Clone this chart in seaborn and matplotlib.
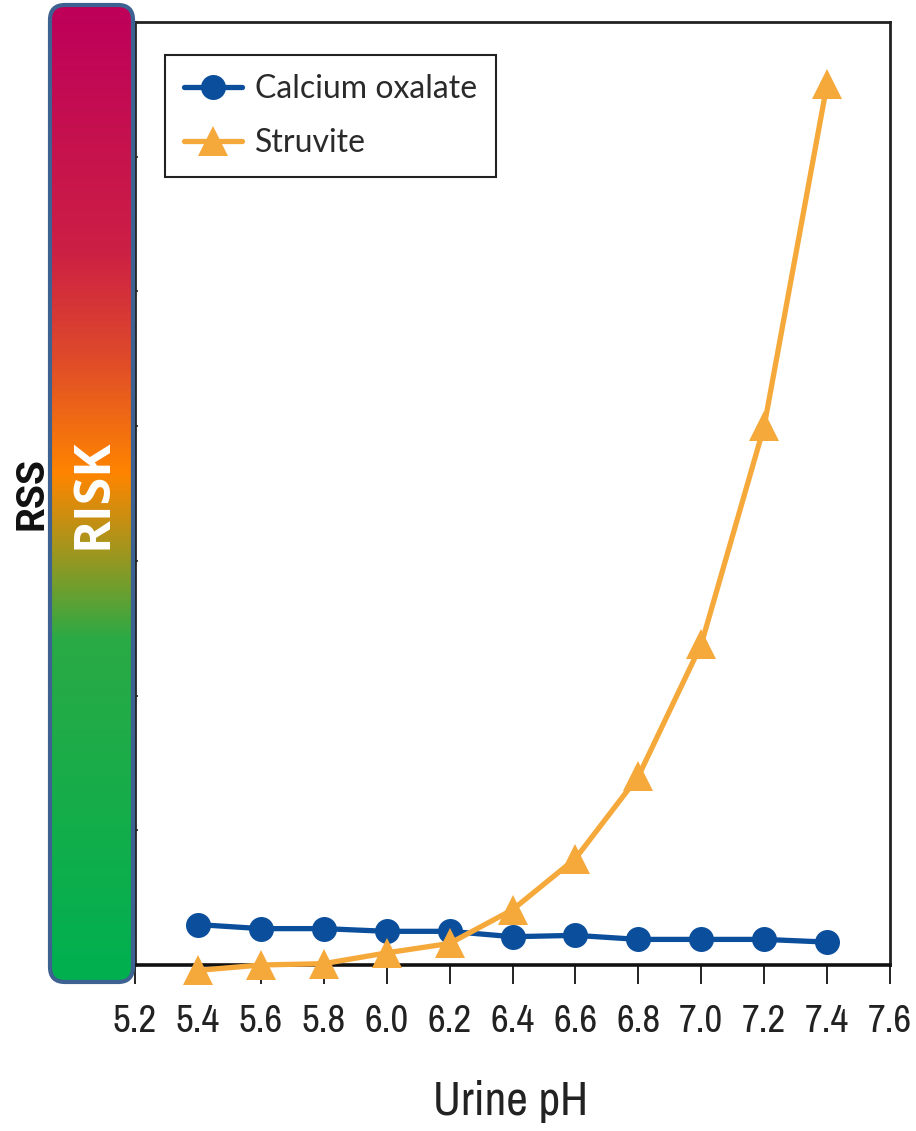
import numpy as np
import pandas as pd
import matplotlib
matplotlib.use("Agg")
import matplotlib.pyplot as plt
from matplotlib.colors import LinearSegmentedColormap
from matplotlib.patches import FancyBboxPatch
from matplotlib import font_manager
import seaborn as sns

# values (RSS in axis units, 0 at the bottom spine)
urine_ph = [5.4, 5.6, 5.8, 6.0, 6.2, 6.4, 6.6, 6.8, 7.0, 7.2, 7.4]
calcium_oxalate = [0.30, 0.27, 0.27, 0.25, 0.25, 0.21, 0.22, 0.19, 0.19, 0.19, 0.17]
struvite = [-0.04, 0.00, 0.01, 0.09, 0.16, 0.41, 0.79, 1.40, 2.38, 4.00, 6.54]
x_ticks = [5.2, 5.4, 5.6, 5.8, 6.0, 6.2, 6.4, 6.6, 6.8, 7.0, 7.2, 7.4, 7.6]
x_tick_labels = ["5.2", "5.4", "5.6", "5.8", "6.0", "6.2", "6.4", "6.6",
                 "6.8", "7.0", "7.2", "7.4", "7.6"]
y_ticks = [0, 1, 2, 3, 4, 5, 6, 7]

BLUE = "#0B4F9C"
ORANGE = "#F6A93B"

# pick a condensed face if one is installed
names = sorted({f.name for f in font_manager.fontManager.ttflist})
condensed = [n for n in names if "Condensed" in n or "Narrow" in n]
NARROW = condensed[:1] + ["DejaVu Sans"]

sns.set_theme(style="white")
plt.rcParams["font.family"] = ["Lato", "DejaVu Sans"]

fig = plt.figure(figsize=(9.16, 11.31), dpi=100)
ax = fig.add_axes([135 / 916, 1 - 965 / 1131, 755 / 916, 943 / 1131])

df_ca = pd.DataFrame({"pH": urine_ph, "RSS": calcium_oxalate})
df_st = pd.DataFrame({"pH": urine_ph, "RSS": struvite})

sns.lineplot(data=df_ca, x="pH", y="RSS", ax=ax, color=BLUE, lw=3.8,
             marker="o", markersize=18, markeredgewidth=0,
             label="Calcium oxalate", clip_on=False, zorder=4)
sns.lineplot(data=df_st, x="pH", y="RSS", ax=ax, color=ORANGE, lw=3.8,
             marker="^", markersize=21, markeredgewidth=0,
             label="Struvite", clip_on=False, zorder=5)

ax.set_xlim(5.2, 7.6)
ax.set_ylim(0, 7)
ax.set_xticks(x_ticks)
ax.set_xticklabels(x_tick_labels, family=NARROW, fontsize=28,
                   fontstretch="condensed", color="#222222")
ax.set_yticks(y_ticks)
ax.set_yticklabels([])
ax.tick_params(axis="x", direction="out", length=14, width=1.4,
               color="#222222", pad=14, bottom=True)
ax.tick_params(axis="y", direction="inout", length=5, width=1.2,
               color="#222222", left=True)

for side in ["top", "right", "left"]:
    ax.spines[side].set_color("#222222")
    ax.spines[side].set_linewidth(2.0)
ax.spines["bottom"].set_color("#111111")
ax.spines["bottom"].set_linewidth(2.6)

ax.set_xlabel("Urine pH", family=NARROW, fontsize=34, fontstretch="condensed",
              color="#222222")
ax.xaxis.set_label_coords(0.497, -0.122)
ax.set_ylabel("RSS", family=["Roboto", "DejaVu Sans"], fontsize=28,
              fontweight="bold", color="#111111")
ax.yaxis.set_label_coords(-0.112, 0.50)

leg = ax.legend(loc="upper left", bbox_to_anchor=(0.04, 0.965), fontsize=23,
                frameon=True, fancybox=False, framealpha=1, edgecolor="#222222",
                handlelength=1.8, handletextpad=0.4, borderpad=0.6,
                labelspacing=0.75, borderaxespad=0)
leg.get_frame().set_linewidth(1.5)
for t in leg.get_texts():
    t.set_color("#2a2a2a")

# gradient RISK bar on the left
stops = [(0.00, "#BE005A"), (0.25, "#CC1F45"), (0.36, "#DE4A2A"),
         (0.48, "#FF8500"), (0.56, "#A0961E"), (0.65, "#2AAA45"),
         (1.00, "#00B050")]
risk_cmap = LinearSegmentedColormap.from_list("risk", stops)

bar_x, bar_y, bar_w, bar_h = 0.50, (1131 - 982) / 100, 0.83, 9.77
bar_ax = fig.add_axes([0, 0, 1, 1], zorder=10)
bar_ax.set_xlim(0, 9.16)
bar_ax.set_ylim(0, 11.31)
bar_ax.axis("off")
bar_ax.patch.set_alpha(0)

grad = np.linspace(0, 1, 512).reshape(-1, 1)
img = bar_ax.imshow(grad, cmap=risk_cmap, aspect="auto",
                    extent=[bar_x, bar_x + bar_w, bar_y, bar_y + bar_h])
clip_box = FancyBboxPatch((bar_x, bar_y), bar_w, bar_h,
                          boxstyle="round,pad=0,rounding_size=0.15",
                          transform=bar_ax.transData, facecolor="none")
bar_ax.add_patch(clip_box)
clip_box.set_visible(False)
img.set_clip_path(clip_box)
border = FancyBboxPatch((bar_x, bar_y), bar_w, bar_h,
                        boxstyle="round,pad=0,rounding_size=0.15",
                        facecolor="none", edgecolor="#3D6190", lw=3)
bar_ax.add_patch(border)
bar_ax.text(bar_x + bar_w / 2 + 0.02, (1131 - 494) / 100, "RISK", rotation=90,
            color="white", fontsize=36, fontweight="bold",
            family=["Open Sans", "DejaVu Sans"], ha="center", va="center")

fig.savefig("out.png", dpi=100, facecolor="white")
